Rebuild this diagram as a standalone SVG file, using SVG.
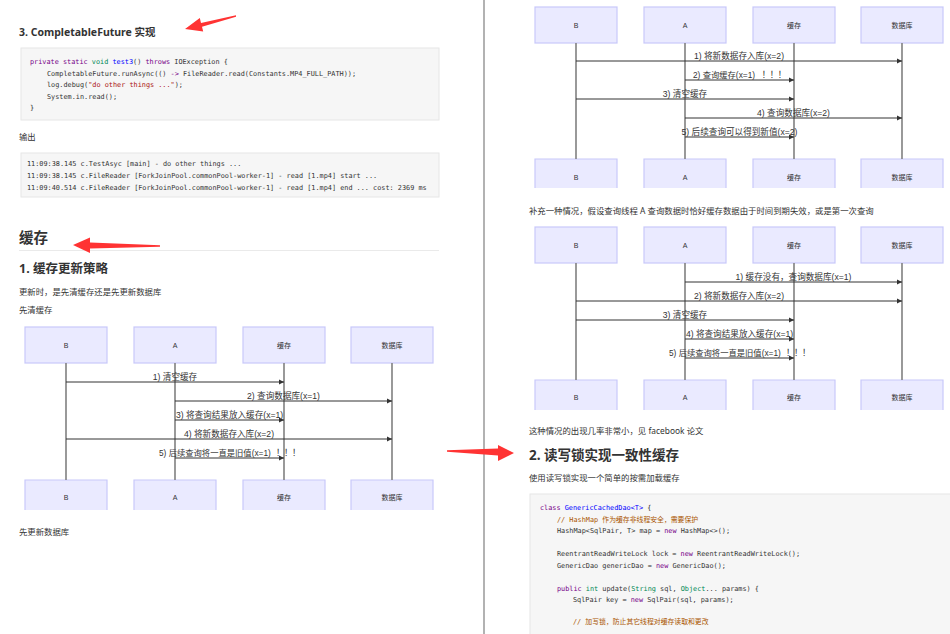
<svg xmlns="http://www.w3.org/2000/svg" width="950" height="634" viewBox="0 0 950 634">
<style>
.h{font-family:"Noto Sans","Noto Sans CJK SC",sans-serif;font-weight:bold;fill:#333}
.p{font-family:"Noto Sans","Noto Sans CJK SC",sans-serif;font-size:8.4px;fill:#333}
.code{font-family:"DejaVu Sans Mono","Noto Sans CJK SC",monospace;font-size:6.85px;fill:#333}
.kw{fill:#770088}.df{fill:#0000ff}.ty{fill:#008855}.cm{fill:#aa5500}.st{fill:#aa1111}
.box{fill:#f6f6f6;stroke:#e6e6e6;stroke-width:1}
.actor{fill:#eaeaff;stroke:#c8c8fa;stroke-width:1.2}
.al{font-family:"Liberation Sans","Noto Sans CJK SC",sans-serif;font-size:7px;fill:#333;text-anchor:middle}
.life{stroke:#808080;stroke-width:1.6}
.msg{stroke:#333;stroke-width:1;fill:none;marker-end:url(#ah)}
.ml{font-family:"Liberation Sans","Noto Sans CJK SC",sans-serif;font-size:8.6px;fill:#333;text-anchor:middle}
.mls{text-anchor:start;font-size:8.3px}
.cj{font-family:"Noto Sans CJK SC",sans-serif;font-size:8.6px}
.red{fill:#ff3333}
</style>
<defs>
<marker id="ah" markerUnits="userSpaceOnUse" markerWidth="6" markerHeight="6" refX="5" refY="3" orient="auto">
<path d="M0,0.5 L5,3 L0,5.5 Z" fill="#333"/>
</marker>
</defs>
<rect width="950" height="634" fill="#fff"/>
<line x1="484" y1="0" x2="484" y2="634" stroke="#999" stroke-width="1.5"/>

<!-- Left column text -->
<g id="left-text">
<text class="h" x="19" y="36" font-size="10.5">3. CompletableFuture 实现</text>
<rect class="box" x="21" y="48" width="418" height="72"/>
<text class="code" x="30" y="64"><tspan class="kw">private static</tspan> <tspan class="ty">void</tspan> <tspan class="df">test3</tspan>() <tspan class="kw">throws</tspan> IOException {</text>
<text class="code" x="47" y="76">CompletableFuture.runAsync(() <tspan class="kw">-&gt;</tspan> FileReader.read(Constants.MP4_FULL_PATH));</text>
<text class="code" x="47" y="87">log.debug(<tspan class="st">"do other things ..."</tspan>);</text>
<text class="code" x="47" y="98.5">System.in.read();</text>
<text class="code" x="30" y="110">}</text>
<text class="p" x="19" y="140">输出</text>
<rect class="box" x="21" y="153" width="418" height="44"/>
<text class="code" x="27" y="166">11:09:38.145 c.TestAsyc [main] - do other things ...</text>
<text class="code" x="27" y="178">11:09:38.145 c.FileReader [ForkJoinPool.commonPool-worker-1] - read [1.mp4] start ...</text>
<text class="code" x="27" y="190">11:09:40.514 c.FileReader [ForkJoinPool.commonPool-worker-1] - read [1.mp4] end ... cost: 2369 ms</text>
<text class="h" x="19" y="242.5" font-size="14.5">缓存</text>
<line x1="19" y1="250.5" x2="439" y2="250.5" stroke="#eaeaea" stroke-width="1"/>
<text class="h" x="19" y="272.5" font-size="12.5">1. 缓存更新策略</text>
<text class="p" x="19" y="295">更新时，是先清缓存还是先更新数据库</text>
<text class="p" x="19" y="313">先清缓存</text>
<text class="p" x="19" y="535">先更新数据库</text>
</g>

<!-- Red arrows -->
<g id="red-arrows">
<polygon class="red" points="236,15.3 201,22.9 199.8,18 185,29 203.2,31.6 202,26.7 236,16.7"/>
<polygon class="red" points="160,245.3 90,242.5 90,237.5 73,245 90,253 90,248.5 160,246.8"/>
<polygon class="red" points="447,450.3 498,448.5 498,445 514,453 498,461 498,455.5 447,451.7"/>
</g>

<!-- Diagram 1 (left) -->
<g id="d1-B"><rect class="actor" x="25" y="327" width="82" height="36"/><text class="al" x="66" y="347.5">B</text>
<path class="actor" d="M25,510 V480 H107 V510"/><text class="al" x="66" y="499.5">B</text></g>
<g id="d1-A"><rect class="actor" x="134" y="327" width="82" height="36"/><text class="al" x="175" y="347.5">A</text>
<path class="actor" d="M134,510 V480 H216 V510"/><text class="al" x="175" y="499.5">A</text></g>
<g id="d1-cache"><rect class="actor" x="243" y="327" width="82" height="36"/><text class="al" x="284" y="347.5">缓存</text>
<path class="actor" d="M243,510 V480 H325 V510"/><text class="al" x="284" y="499.5">缓存</text></g>
<g id="d1-db"><rect class="actor" x="351" y="327" width="82" height="36"/><text class="al" x="392" y="347.5">数据库</text>
<path class="actor" d="M351,510 V480 H433 V510"/><text class="al" x="392" y="499.5">数据库</text></g>
<g id="d1-connectors">
<line class="life" x1="66" y1="363" x2="66" y2="480"/>
<line class="life" x1="175" y1="363" x2="175" y2="480"/>
<line class="life" x1="284" y1="363" x2="284" y2="480"/>
<line class="life" x1="392" y1="363" x2="392" y2="480"/>
<line class="msg" x1="66" y1="382" x2="284" y2="382"/><text class="ml" x="175" y="379.5">1) 清空缓存</text>
<line class="msg" x1="175" y1="401" x2="392" y2="401"/><text class="ml" x="283.5" y="398.5">2) 查询数据库(x=1)</text>
<line class="msg" x1="175" y1="420" x2="284" y2="420"/><text class="ml" x="229.5" y="417.5">3) 将查询结果放入缓存(x=1)</text>
<line class="msg" x1="66" y1="439" x2="392" y2="439"/><text class="ml" x="229" y="436.5">4) 将新数据存入库(x=2)</text>
<line class="msg" x1="175" y1="458" x2="284" y2="458"/><text class="ml mls" x="159" y="455.5">5) 后续查询将一直是旧值(x=1)<tspan class="cj" x="276">！</tspan><tspan class="cj" x="284">！</tspan><tspan class="cj" x="292">！</tspan></text>
</g>

<!-- Diagram 2 (right top) -->
<g id="d2-B"><rect class="actor" x="535" y="7" width="82" height="36"/><text class="al" x="576" y="27.5">B</text>
<path class="actor" d="M535,188 V159 H617 V188"/><text class="al" x="576" y="179.5">B</text></g>
<g id="d2-A"><rect class="actor" x="644" y="7" width="82" height="36"/><text class="al" x="685" y="27.5">A</text>
<path class="actor" d="M644,188 V159 H726 V188"/><text class="al" x="685" y="179.5">A</text></g>
<g id="d2-cache"><rect class="actor" x="753" y="7" width="82" height="36"/><text class="al" x="794" y="27.5">缓存</text>
<path class="actor" d="M753,188 V159 H835 V188"/><text class="al" x="794" y="179.5">缓存</text></g>
<g id="d2-db"><rect class="actor" x="861" y="7" width="82" height="36"/><text class="al" x="902" y="27.5">数据库</text>
<path class="actor" d="M861,188 V159 H943 V188"/><text class="al" x="902" y="179.5">数据库</text></g>
<g id="d2-connectors">
<line class="life" x1="576" y1="43" x2="576" y2="159"/>
<line class="life" x1="685" y1="43" x2="685" y2="159"/>
<line class="life" x1="794" y1="43" x2="794" y2="159"/>
<line class="life" x1="902" y1="43" x2="902" y2="159"/>
<line class="msg" x1="576" y1="61" x2="902" y2="61"/><text class="ml" x="739" y="58.5">1) 将新数据存入库(x=2)</text>
<line class="msg" x1="685" y1="80" x2="794" y2="80"/><text class="ml mls" x="693" y="77.5">2) 查询缓存(x=1)<tspan class="cj" x="761.7">！</tspan><tspan class="cj" x="769.7">！</tspan><tspan class="cj" x="777.7">！</tspan></text>
<line class="msg" x1="576" y1="99" x2="794" y2="99"/><text class="ml" x="685" y="96.5">3) 清空缓存</text>
<line class="msg" x1="685" y1="118" x2="902" y2="118"/><text class="ml" x="793.5" y="115.5">4) 查询数据库(x=2)</text>
<line class="msg" x1="685" y1="137" x2="794" y2="137"/><text class="ml" x="739.5" y="134.5">5) 后续查询可以得到新值(x=2)</text>
</g>

<text class="p" x="529" y="214" font-size="8.6">补充一种情况，假设查询线程 A 查询数据时恰好缓存数据由于时间到期失效，或是第一次查询</text>

<!-- Diagram 3 (right middle) -->
<g id="d3-B"><rect class="actor" x="535" y="227" width="82" height="36"/><text class="al" x="576" y="247.5">B</text>
<path class="actor" d="M535,410 V380 H617 V410"/><text class="al" x="576" y="399.5">B</text></g>
<g id="d3-A"><rect class="actor" x="644" y="227" width="82" height="36"/><text class="al" x="685" y="247.5">A</text>
<path class="actor" d="M644,410 V380 H726 V410"/><text class="al" x="685" y="399.5">A</text></g>
<g id="d3-cache"><rect class="actor" x="753" y="227" width="82" height="36"/><text class="al" x="794" y="247.5">缓存</text>
<path class="actor" d="M753,410 V380 H835 V410"/><text class="al" x="794" y="399.5">缓存</text></g>
<g id="d3-db"><rect class="actor" x="861" y="227" width="82" height="36"/><text class="al" x="902" y="247.5">数据库</text>
<path class="actor" d="M861,410 V380 H943 V410"/><text class="al" x="902" y="399.5">数据库</text></g>
<g id="d3-connectors">
<line class="life" x1="576" y1="263" x2="576" y2="380"/>
<line class="life" x1="685" y1="263" x2="685" y2="380"/>
<line class="life" x1="794" y1="263" x2="794" y2="380"/>
<line class="life" x1="902" y1="263" x2="902" y2="380"/>
<line class="msg" x1="685" y1="282" x2="902" y2="282"/><text class="ml" x="793.5" y="279.5">1) 缓存没有，查询数据库(x=1)</text>
<line class="msg" x1="576" y1="301" x2="902" y2="301"/><text class="ml" x="739" y="298.5">2) 将新数据存入库(x=2)</text>
<line class="msg" x1="576" y1="320" x2="794" y2="320"/><text class="ml" x="685" y="317.5">3) 清空缓存</text>
<line class="msg" x1="685" y1="339" x2="794" y2="339"/><text class="ml" x="739.5" y="336.5">4) 将查询结果放入缓存(x=1)</text>
<line class="msg" x1="685" y1="358" x2="794" y2="358"/><text class="ml mls" x="669" y="355.5">5) 后续查询将一直是旧值(x=1)<tspan class="cj" x="786">！</tspan><tspan class="cj" x="794">！</tspan><tspan class="cj" x="802">！</tspan></text>
</g>

<!-- Right column bottom text -->
<g id="right-text">
<text class="p" x="529" y="434">这种情况的出现几率非常小，见 facebook 论文</text>
<text class="h" x="529" y="460" font-size="13.5">2. 读写锁实现一致性缓存</text>
<text class="p" x="529" y="481">使用读写锁实现一个简单的按需加载缓存</text>
<rect class="box" x="530" y="494" width="425" height="150"/>
<text class="code" x="540" y="510"><tspan class="kw">class</tspan> <tspan class="df">GenericCachedDao&lt;T&gt;</tspan> {</text>
<text class="code cm" x="557" y="521.5">// HashMap 作为缓存非线程安全，需要保护</text>
<text class="code" x="557" y="533">HashMap&lt;SqlPair, T&gt; map = <tspan class="kw">new</tspan> HashMap&lt;&gt;();</text>
<text class="code" x="557" y="556">ReentrantReadWriteLock lock = <tspan class="kw">new</tspan> ReentrantReadWriteLock();</text>
<text class="code" x="557" y="567.5">GenericDao genericDao = <tspan class="kw">new</tspan> GenericDao();</text>
<text class="code" x="557" y="590.5"><tspan class="kw">public</tspan> <tspan class="ty">int</tspan> update(<tspan class="ty">String</tspan> sql, <tspan class="ty">Object</tspan>... params) {</text>
<text class="code" x="573" y="602">SqlPair key = <tspan class="kw">new</tspan> SqlPair(sql, params);</text>
<text class="code cm" x="573" y="624">// 加写锁，防止其它线程对缓存读取和更改</text>
</g>
</svg>
